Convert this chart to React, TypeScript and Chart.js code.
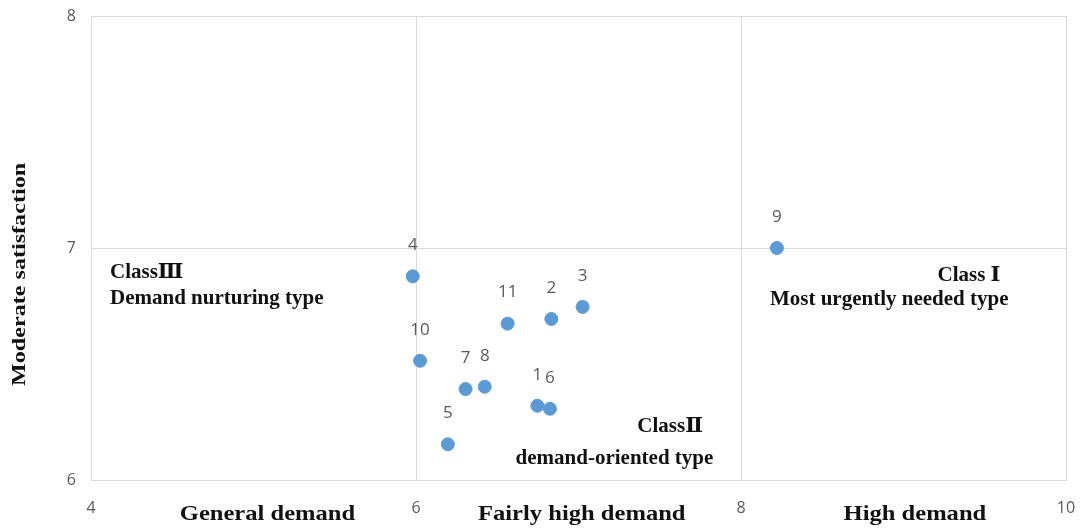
import React, { useEffect, useRef } from "react";
import { Chart, registerables } from "chart.js";

Chart.register(...registerables);

const pointIds = ["1", "2", "3", "4", "5", "6", "7", "8", "9", "10", "11"];
const demandValues = [6.747, 6.833, 7.025, 5.98, 6.196, 6.824, 6.305, 6.423, 8.221, 6.025, 6.564];
const satisfactionValues = [6.32, 6.694, 6.746, 6.878, 6.154, 6.307, 6.392, 6.402, 7.0, 6.514, 6.674];

const xTickValues = [4, 6, 8, 10];
const yTickValues = [6, 7, 8];

const bandLabels = ["General demand", "Fairly high demand", "High demand"];
const bandCenters = [5.086, 7.02, 9.07];

const classTexts = ["ClassⅢ", "Demand nurturing type", "Class Ⅰ", "Most urgently needed type", "ClassⅡ", "demand-oriented type"];
const classX = [4.117, 4.117, 9.209, 8.178, 7.362, 6.613];
const classY = [6.894, 6.782, 6.881, 6.778, 6.229, 6.092];

const yTitle = "Moderate satisfaction";

const SERIF = '"Liberation Serif", "Times New Roman", "DejaVu Serif", serif';
const SANS = '"Open Sans", "Liberation Sans", sans-serif';

function stretchedText(ctx: any, text: string, x: number, y: number, sx: number) {
  ctx.save();
  ctx.translate(x, y);
  ctx.scale(sx, 1);
  ctx.fillText(text, 0, 0);
  ctx.restore();
}

const overlayPlugin = {
  id: "overlay",
  afterDatasetsDraw(chart: any) {
    const ctx = chart.ctx;
    const xs = chart.scales.x;
    const ys = chart.scales.y;
    ctx.save();
    ctx.fillStyle = "#595959";
    ctx.font = `17px ${SANS}`;
    ctx.textAlign = "center";
    ctx.textBaseline = "middle";
    const meta = chart.getDatasetMeta(0);
    meta.data.forEach((el: any, i: number) => {
      ctx.fillText(pointIds[i], el.x, el.y - 31);
    });
    ctx.fillStyle = "#111";
    ctx.font = `bold 21px ${SERIF}`;
    ctx.textAlign = "left";
    classTexts.forEach((t, i) => {
      ctx.fillText(t, xs.getPixelForValue(classX[i]), ys.getPixelForValue(classY[i]));
    });
    ctx.font = `bold 21px ${SERIF}`;
    ctx.textAlign = "center";
    bandLabels.forEach((t, i) => {
      stretchedText(ctx, t, xs.getPixelForValue(bandCenters[i]), ys.bottom + 35, 1.17);
    });
    ctx.translate(chart.chartArea.left - 71, ys.getPixelForValue(6.886));
    ctx.rotate(-Math.PI / 2);
    ctx.font = `bold 19px ${SERIF}`;
    stretchedText(ctx, yTitle, 0, 0, 1.27);
    ctx.restore();
  },
};

export default function App() {
  const ref = useRef<HTMLCanvasElement>(null);
  useEffect(() => {
    document.body.style.margin = "0";
    const chart = new Chart(ref.current!, {
      type: "scatter",
      data: {
        datasets: [
          {
            data: demandValues.map((x, i) => ({ x, y: satisfactionValues[i] })),
            backgroundColor: "#5b9bd5",
            borderColor: "#5b9bd5",
            pointRadius: 6.5,
            pointHoverRadius: 6.5,
          },
        ],
      },
      options: {
        animation: false,
        responsive: false,
        maintainAspectRatio: false,
        layout: { padding: { left: 0, right: 15, top: 16, bottom: 0 } },
        plugins: { legend: { display: false }, tooltip: { enabled: false } },
        scales: {
          x: {
            type: "linear",
            min: 4,
            max: 10,
            afterBuildTicks: (s: any) => {
              s.ticks = xTickValues.map((v) => ({ value: v }));
            },
            afterFit: (s: any) => {
              s.height = 49;
              s.paddingLeft = 0;
              s.paddingRight = 0;
              s.paddingTop = 0;
              s.paddingBottom = 0;
            },
            grid: { color: "#d9d9d9", drawTicks: false, lineWidth: 1 },
            border: { color: "#d9d9d9" },
            ticks: { color: "#595959", font: { family: SANS, size: 16 }, padding: 19 },
          },
          y: {
            type: "linear",
            min: 6,
            max: 8,
            afterBuildTicks: (s: any) => {
              s.ticks = yTickValues.map((v) => ({ value: v }));
            },
            afterFit: (s: any) => {
              s.width = 91;
              s.paddingLeft = 0;
              s.paddingRight = 0;
              s.paddingTop = 0;
              s.paddingBottom = 0;
            },
            grid: { color: "#d9d9d9", drawTicks: false, lineWidth: 1 },
            border: { color: "#d9d9d9" },
            ticks: { color: "#595959", font: { family: SANS, size: 16 }, padding: 15 },
          },
        },
      },
      plugins: [overlayPlugin],
    });
    return () => chart.destroy();
  }, []);
  return (
    <div style={{ width: 1081, height: 529, background: "#fff" }}>
      <canvas ref={ref} width={1081} height={529} style={{ width: 1081, height: 529 }} />
    </div>
  );
}
